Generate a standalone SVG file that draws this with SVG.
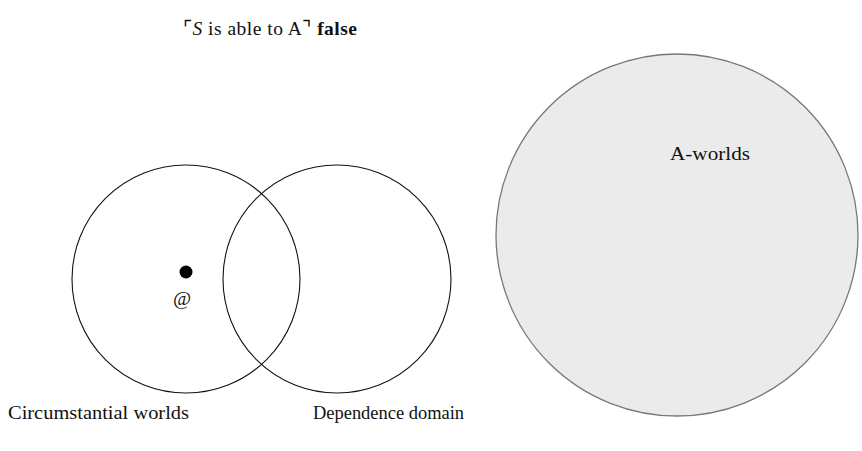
<svg xmlns="http://www.w3.org/2000/svg" width="862" height="451" viewBox="0 0 862 451">
<style>
.lbl{font-family:'Liberation Serif','DejaVu Serif',serif;font-size:19.5px;fill:#111;}
.ring{fill:none;stroke:#111;stroke-width:1.1;}
</style>
<rect width="862" height="451" fill="#fff"/>
<text x="183" y="35" class="lbl" textLength="174" lengthAdjust="spacing">⌜<tspan font-style="italic">S</tspan> is able to A⌝ <tspan font-weight="bold">false</tspan></text>
<g id="a-worlds">
<circle cx="677" cy="235" r="181" fill="#ebebeb" stroke="#777" stroke-width="1.3"/>
<text x="670" y="160" class="lbl" textLength="80" lengthAdjust="spacingAndGlyphs">A-worlds</text>
</g>
<g id="circumstantial">
<circle cx="186" cy="279" r="114" class="ring"/>
<text x="8" y="419" class="lbl" textLength="181" lengthAdjust="spacingAndGlyphs">Circumstantial worlds</text>
</g>
<g id="dependence">
<circle cx="337" cy="279" r="114" class="ring"/>
<text x="313" y="419" class="lbl" textLength="151" lengthAdjust="spacingAndGlyphs">Dependence domain</text>
</g>
<g id="actual">
<circle cx="186" cy="272" r="6.5" fill="#000"/>
<text x="173" y="305" class="lbl" font-size="16" font-style="italic">@</text>
</g>
<g id="connectors"/>
</svg>
